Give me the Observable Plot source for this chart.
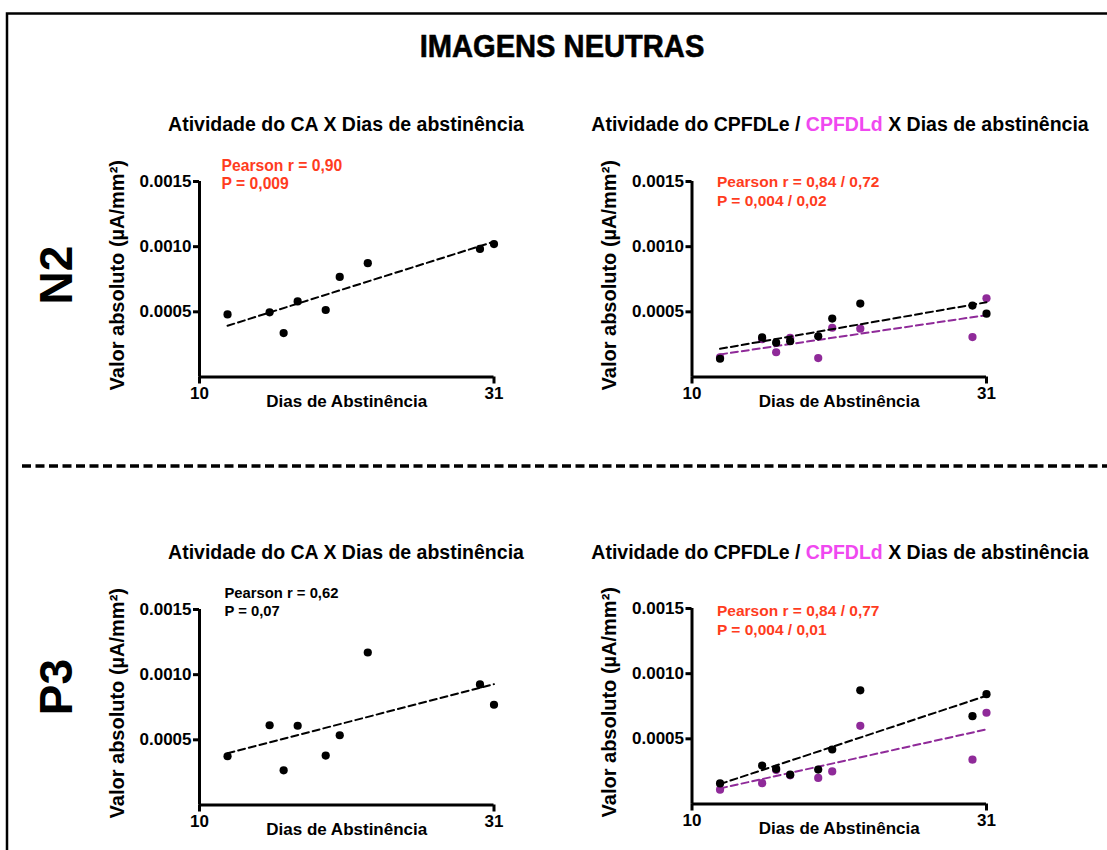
<!DOCTYPE html>
<html><head><meta charset="utf-8">
<script src="https://cdn.jsdelivr.net/npm/d3@7"></script>
<script src="https://cdn.jsdelivr.net/npm/@observablehq/plot@0.6"></script>
<style>
body{margin:0;background:#fff;}
#wrap{position:relative;width:1107px;height:850px;overflow:hidden;font-family:"Liberation Sans",Arial,sans-serif;}
.panel{position:absolute;}
#deco{position:absolute;left:0;top:0;}
</style></head><body><div id="wrap"></div>
<script>
// ---- data ----
const days = [12, 15, 16, 17, 19, 20, 22, 30, 31];
const n2_CA      = [0.000480, 0.000496, 0.000337, 0.000580, 0.000514, 0.000768, 0.000873, 0.000983, 0.001020];
const n2_CPFDLe  = [0.000140, 0.000304, 0.000263, 0.000275, 0.000312, 0.000448, 0.000563, 0.000548, 0.000486];
const n2_CPFDLd  = [0.000150, 0.000290, 0.000190, 0.000300, 0.000145, 0.000378, 0.000371, 0.000306, 0.000604];
const p3_CA      = [0.000374, 0.000612, 0.000266, 0.000608, 0.000379, 0.000535, 0.001170, 0.000925, 0.000769];
const p3_CPFDLe  = [0.000158, 0.000295, 0.000269, 0.000225, 0.000264, 0.000418, 0.000872, 0.000674, 0.000843];
const p3_CPFDLd  = [0.000110, 0.000160, 0.000260, 0.000220, 0.000200, 0.000250, 0.000600, 0.000340, 0.000700];
const xTicks = [10, 31];
const yTicks = [0.0005, 0.0010, 0.0015];
const mainTitle = "IMAGENS NEUTRAS";
const rowLabels = ["N2", "P3"];
const titleCA = "Atividade do CA X Dias de abstinência";
const titleCPF = ["Atividade do CPFDLe / ", "CPFDLd", " X Dias de abstinência"];
const xLabel = "Dias de Abstinência";
const yLabel = "Valor absoluto (µA/mm²)";
const stats = {
  n2CA: "Pearson r = 0,90\nP = 0,009",
  n2CPF: "Pearson r = 0,84 / 0,72\nP = 0,004 / 0,02",
  p3CA: "Pearson r = 0,62\nP = 0,07",
  p3CPF: "Pearson r = 0,84 / 0,77\nP = 0,004 / 0,01"
};

const RED = "#ff3c1e", MAG = "#f048f0", PURPLE = "#8f2a99";
const wrap = document.getElementById("wrap");

// ---- decorations ----
const deco = d3.select(wrap).append("svg").attr("id","deco").attr("width",1107).attr("height",850)
  .style("font-family","'Liberation Sans', Arial, sans-serif").style("font-weight","bold");
deco.append("path").attr("d","M7,850 V13.5 H1107").attr("fill","none").attr("stroke","#000").attr("stroke-width",2.5);
deco.append("line").attr("x1",22).attr("x2",1107).attr("y1",466).attr("y2",466)
  .attr("stroke","#000").attr("stroke-width",3.5).attr("stroke-dasharray","9,4.5");
deco.append("text").attr("transform","translate(562,57) scale(0.91,1)").attr("text-anchor","middle")
  .attr("font-size",32).attr("stroke","#000").attr("stroke-width",0.6).text(mainTitle);
[[275, rowLabels[0]], [687, rowLabels[1]]].forEach(([y, t]) => {
  deco.append("text").attr("transform",`translate(72,${y}) rotate(-90)`).attr("text-anchor","middle")
    .attr("font-size",46).text(t);
});
[131, 559].forEach(y => {
  deco.append("text").attr("x",346).attr("y",y).attr("text-anchor","middle").attr("font-size",19.5).text(titleCA);
  const t = deco.append("text").attr("x",840).attr("y",y).attr("text-anchor","middle").attr("font-size",19.5);
  t.append("tspan").text(titleCPF[0]);
  t.append("tspan").attr("fill",MAG).text(titleCPF[1]);
  t.append("tspan").text(titleCPF[2]);
});

// ---- panels ----
function panel({black, purple, stat, statColor, statDx, statDy, statSize, statLH, left, top, ml}) {
  const W = 430, H = 290;
  const toRows = arr => days.map((d, i) => ({day: d, v: arr[i]}));
  const marks = [
    Plot.ruleY([0], {x1: 10, x2: 31, strokeWidth: 3}),
    Plot.ruleX([10], {y1: 0, y2: 0.0015, strokeWidth: 3}),
    Plot.axisY({ticks: yTicks, tickFormat: d3.format(".4f"), tickSize: 6, tickPadding: 2, strokeWidth: 3, label: null, fontSize: 17}),
    Plot.axisX({ticks: xTicks, tickFormat: d3.format("d"), tickSize: 7, tickPadding: 3, strokeWidth: 3, label: null, fontSize: 17}),
    Plot.text([yLabel], {frameAnchor: "left", textAnchor: "middle", lineAnchor: "middle", rotate: -90, dx: -82, dy: -4, fontSize: 20}),
    Plot.text([xLabel], {frameAnchor: "bottom", dy: 30, fontSize: 17}),
    Plot.text([stat], {frameAnchor: "top-left", textAnchor: "start", lineAnchor: "top", dx: statDx, dy: statDy,
      fill: statColor, fontSize: statSize, lineHeight: statLH})
  ];
  if (purple) {
    const pr = toRows(purple);
    marks.push(Plot.linearRegressionY(pr, {x: "day", y: "v", stroke: PURPLE, strokeWidth: 2, strokeDasharray: "7,4", ci: 0}));
    marks.push(Plot.dot(pr, {x: "day", y: "v", r: 4.1, fill: PURPLE}));
  }
  const br = toRows(black);
  marks.push(Plot.linearRegressionY(br, {x: "day", y: "v", stroke: "#000", strokeWidth: 2, strokeDasharray: "7,4", ci: 0}));
  marks.push(Plot.dot(br, {x: "day", y: "v", r: 4.1, fill: "#000"}));
  const chart = Plot.plot({
    width: W, height: H,
    marginLeft: ml, marginRight: W - ml - 294.5,
    marginTop: 51, marginBottom: 43.5,
    x: {domain: [10, 31]},
    y: {domain: [0, 0.0015]},
    style: {fontFamily: "'Liberation Sans', Arial, sans-serif", fontWeight: "bold", color: "#000", background: "transparent", overflow: "visible"},
    marks
  });
  const div = document.createElement("div");
  div.className = "panel";
  div.style.left = left + "px"; div.style.top = top + "px";
  div.appendChild(chart);
  wrap.appendChild(div);
}

panel({black: n2_CA, stat: stats.n2CA, statColor: RED, statDx: 22, statDy: -22.7, statSize: 15.7, statLH: 1.13, left: 90, top: 130, ml: 109});
panel({black: n2_CPFDLe, purple: n2_CPFDLd, stat: stats.n2CPF, statColor: RED, statDx: 25, statDy: -8, statSize: 15.5, statLH: 1.24, left: 582, top: 130, ml: 109.5});
panel({black: p3_CA, stat: stats.p3CA, statColor: "#000", statDx: 25, statDy: -24.3, statSize: 14.8, statLH: 1.2, left: 90, top: 558.3, ml: 109});
panel({black: p3_CPFDLe, purple: p3_CPFDLd, stat: stats.p3CPF, statColor: RED, statDx: 25, statDy: -6, statSize: 15.5, statLH: 1.24, left: 582, top: 557.3, ml: 109.5});
</script></body></html>
